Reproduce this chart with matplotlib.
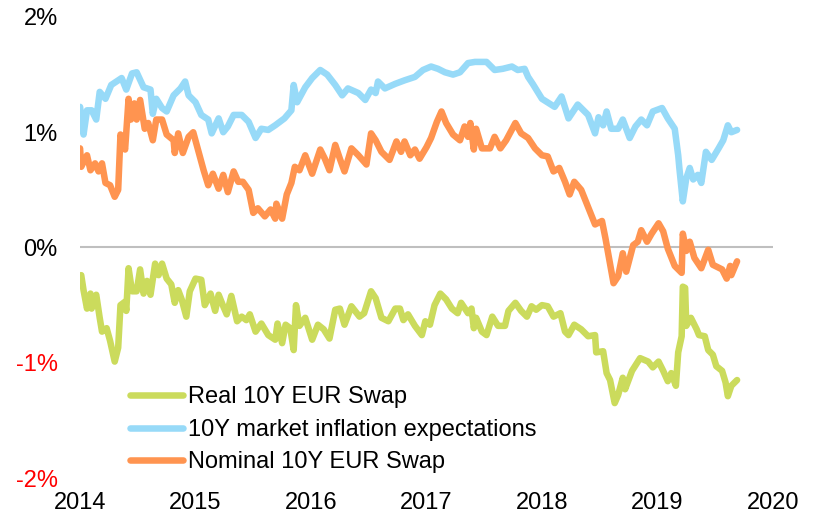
import matplotlib.pyplot as plt

# decimal years / values in %
real_t = [2014.01, 2014.03, 2014.06, 2014.09, 2014.10, 2014.14, 2014.17, 2014.19, 2014.23, 2014.26,
          2014.30, 2014.33, 2014.35, 2014.39, 2014.40, 2014.42, 2014.45, 2014.49, 2014.52, 2014.55,
          2014.58, 2014.61, 2014.65, 2014.68, 2014.71, 2014.75, 2014.79, 2014.82, 2014.85, 2014.88,
          2014.92, 2014.95, 2015.00, 2015.05, 2015.08, 2015.13, 2015.17, 2015.20, 2015.24, 2015.27,
          2015.31, 2015.36, 2015.40, 2015.44, 2015.47, 2015.52, 2015.57, 2015.63, 2015.69, 2015.71,
          2015.75, 2015.78, 2015.82, 2015.85, 2015.87, 2015.90, 2015.95, 2016.01, 2016.06, 2016.11,
          2016.16, 2016.21, 2016.25, 2016.29, 2016.35, 2016.42, 2016.46, 2016.52, 2016.56, 2016.61,
          2016.67, 2016.73, 2016.77, 2016.80, 2016.84, 2016.90, 2016.96, 2016.99, 2017.03, 2017.07,
          2017.12, 2017.17, 2017.22, 2017.27, 2017.30, 2017.36, 2017.39, 2017.41, 2017.43, 2017.48,
          2017.52, 2017.57, 2017.62, 2017.68, 2017.71, 2017.77, 2017.82, 2017.87, 2017.91, 2017.95,
          2018.00, 2018.05, 2018.10, 2018.16, 2018.20, 2018.23, 2018.28, 2018.34, 2018.40, 2018.46,
          2018.47, 2018.53, 2018.56, 2018.59, 2018.63, 2018.66, 2018.70, 2018.72, 2018.78, 2018.85,
          2018.92, 2018.96, 2019.01, 2019.05, 2019.09, 2019.12, 2019.16, 2019.18, 2019.21, 2019.22,
          2019.24, 2019.25, 2019.29, 2019.34, 2019.36, 2019.41, 2019.44, 2019.48, 2019.51, 2019.56,
          2019.59, 2019.61, 2019.64, 2019.69]
real_v = [-0.24, -0.37, -0.53, -0.40, -0.53, -0.41, -0.61, -0.73, -0.70, -0.81,
          -0.99, -0.87, -0.50, -0.47, -0.55, -0.18, -0.38, -0.38, -0.19, -0.40,
          -0.29, -0.41, -0.14, -0.24, -0.14, -0.27, -0.32, -0.48, -0.37, -0.45,
          -0.60, -0.38, -0.27, -0.28, -0.50, -0.40, -0.55, -0.41, -0.51, -0.58,
          -0.42, -0.64, -0.60, -0.63, -0.58, -0.73, -0.66, -0.76, -0.80, -0.66,
          -0.83, -0.67, -0.70, -0.89, -0.50, -0.68, -0.61, -0.80, -0.67, -0.71,
          -0.79, -0.54, -0.53, -0.67, -0.51, -0.60, -0.57, -0.38, -0.44, -0.61,
          -0.64, -0.53, -0.53, -0.63, -0.58, -0.68, -0.76, -0.64, -0.67, -0.50,
          -0.40, -0.45, -0.53, -0.57, -0.48, -0.57, -0.53, -0.70, -0.61, -0.73,
          -0.76, -0.60, -0.68, -0.68, -0.55, -0.48, -0.55, -0.60, -0.51, -0.54,
          -0.50, -0.51, -0.60, -0.57, -0.73, -0.76, -0.67, -0.71, -0.77, -0.76,
          -0.91, -0.90, -1.09, -1.15, -1.35, -1.28, -1.13, -1.23, -1.07, -0.96,
          -0.99, -1.04, -0.99, -1.07, -1.16, -1.09, -1.20, -0.91, -0.77, -0.34,
          -0.35, -0.68, -0.61, -0.71, -0.76, -0.77, -0.89, -0.93, -1.03, -1.07,
          -1.17, -1.29, -1.20, -1.15]

infl_t = [2014.00, 2014.03, 2014.06, 2014.10, 2014.14, 2014.17, 2014.22, 2014.27, 2014.36, 2014.40,
          2014.45, 2014.49, 2014.55, 2014.61, 2014.63, 2014.66, 2014.71, 2014.75, 2014.81, 2014.87,
          2014.91, 2014.94, 2015.00, 2015.05, 2015.11, 2015.14, 2015.20, 2015.24, 2015.28, 2015.33,
          2015.40, 2015.46, 2015.52, 2015.57, 2015.63, 2015.69, 2015.77, 2015.83, 2015.85, 2015.88,
          2015.95, 2016.01, 2016.08, 2016.14, 2016.21, 2016.27, 2016.32, 2016.41, 2016.47, 2016.52,
          2016.56, 2016.58, 2016.64, 2016.73, 2016.81, 2016.90, 2016.97, 2017.04, 2017.10, 2017.16,
          2017.23, 2017.29, 2017.36, 2017.42, 2017.52, 2017.59, 2017.66, 2017.74, 2017.79, 2017.85,
          2017.88, 2017.92, 2018.00, 2018.11, 2018.17, 2018.23, 2018.31, 2018.40, 2018.46, 2018.49,
          2018.53, 2018.56, 2018.60, 2018.66, 2018.70, 2018.76, 2018.81, 2018.86, 2018.91, 2018.96,
          2019.04, 2019.09, 2019.15, 2019.18, 2019.19, 2019.22, 2019.25, 2019.28, 2019.31, 2019.35,
          2019.38, 2019.42, 2019.47, 2019.53, 2019.57, 2019.61, 2019.64, 2019.69]
infl_v = [1.22, 0.98, 1.19, 1.19, 1.11, 1.35, 1.29, 1.41, 1.47, 1.37,
          1.51, 1.52, 1.39, 1.37, 1.16, 1.29, 1.21, 1.18, 1.32, 1.38,
          1.44, 1.32, 1.26, 1.15, 1.11, 0.99, 1.12, 1.00, 1.05, 1.15,
          1.15, 1.09, 0.95, 1.03, 1.02, 1.06, 1.12, 1.19, 1.41, 1.26,
          1.39, 1.47, 1.54, 1.50, 1.41, 1.32, 1.38, 1.34, 1.28, 1.37,
          1.34, 1.44, 1.38, 1.42, 1.45, 1.48, 1.54, 1.57, 1.55, 1.52,
          1.50, 1.52, 1.60, 1.61, 1.61, 1.54, 1.55, 1.57, 1.54, 1.55,
          1.48, 1.42, 1.29, 1.22, 1.31, 1.12, 1.24, 1.15, 0.99, 1.13,
          1.06, 1.18, 1.03, 1.03, 1.11, 0.95, 1.05, 1.11, 1.06, 1.18,
          1.21, 1.12, 1.03, 0.80, 0.69, 0.40, 0.60, 0.69, 0.59, 0.63,
          0.56, 0.83, 0.76, 0.86, 0.93, 1.06, 1.00, 1.02]

nom_t = [2014.00, 2014.01, 2014.06, 2014.09, 2014.13, 2014.16, 2014.19, 2014.22, 2014.26, 2014.30,
         2014.33, 2014.35, 2014.39, 2014.42, 2014.44, 2014.47, 2014.49, 2014.52, 2014.56, 2014.59,
         2014.63, 2014.66, 2014.71, 2014.75, 2014.81, 2014.82, 2014.85, 2014.89, 2014.94, 2014.98,
         2015.01, 2015.07, 2015.11, 2015.15, 2015.20, 2015.24, 2015.28, 2015.33, 2015.37, 2015.41,
         2015.46, 2015.50, 2015.54, 2015.60, 2015.65, 2015.69, 2015.70, 2015.75, 2015.79, 2015.83,
         2015.86, 2015.90, 2015.95, 2016.01, 2016.08, 2016.12, 2016.16, 2016.21, 2016.25, 2016.29,
         2016.35, 2016.41, 2016.48, 2016.52, 2016.56, 2016.61, 2016.68, 2016.74, 2016.78, 2016.81,
         2016.86, 2016.90, 2016.94, 2017.00, 2017.04, 2017.09, 2017.13, 2017.17, 2017.23, 2017.29,
         2017.33, 2017.36, 2017.38, 2017.41, 2017.43, 2017.48, 2017.55, 2017.59, 2017.64, 2017.69,
         2017.77, 2017.82, 2017.88, 2017.94, 2018.00, 2018.05, 2018.10, 2018.15, 2018.20, 2018.24,
         2018.28, 2018.34, 2018.40, 2018.46, 2018.52, 2018.55, 2018.57, 2018.62, 2018.66, 2018.70,
         2018.73, 2018.79, 2018.83, 2018.86, 2018.91, 2018.95, 2019.01, 2019.05, 2019.09, 2019.15,
         2019.21, 2019.22, 2019.25, 2019.28, 2019.32, 2019.38, 2019.44, 2019.48, 2019.56, 2019.60,
         2019.63, 2019.64, 2019.69]
nom_v = [0.86, 0.70, 0.80, 0.67, 0.73, 0.66, 0.73, 0.56, 0.54, 0.44,
         0.50, 0.98, 0.85, 1.29, 1.11, 1.25, 1.11, 1.28, 1.03, 1.08,
         0.93, 1.11, 1.11, 0.98, 0.93, 0.82, 0.99, 0.82, 0.96, 1.00,
         0.89, 0.67, 0.54, 0.64, 0.51, 0.63, 0.48, 0.66, 0.57, 0.57,
         0.50, 0.30, 0.34, 0.27, 0.33, 0.25, 0.38, 0.25, 0.46, 0.56,
         0.70, 0.67, 0.80, 0.64, 0.85, 0.77, 0.67, 0.89, 0.77, 0.66,
         0.86, 0.80, 0.72, 0.99, 0.93, 0.83, 0.76, 0.92, 0.83, 0.92,
         0.80, 0.85, 0.77, 0.87, 0.95, 1.09, 1.18, 1.08, 0.98, 0.93,
         1.05, 0.96, 1.08, 0.85, 1.03, 0.86, 0.86, 0.96, 0.86, 0.93,
         1.08, 0.99, 0.95, 0.86, 0.80, 0.79, 0.66, 0.69, 0.57, 0.46,
         0.57, 0.50, 0.35, 0.20, 0.23, 0.08, -0.03, -0.31, -0.25, -0.05,
         -0.21, 0.02, 0.05, 0.15, 0.05, 0.12, 0.21, 0.14, -0.01, -0.16,
         -0.22, 0.12, -0.03, 0.05, -0.09, -0.18, -0.02, -0.15, -0.19, -0.27,
         -0.16, -0.24, -0.12]

years = [2014, 2015, 2016, 2017, 2018, 2019, 2020]
y_ticks = [-2, -1, 0, 1, 2]
y_labels = ["-2%", "-1%", "0%", "1%", "2%"]

plt.rcParams["font.family"] = ["Liberation Sans", "DejaVu Sans"]

fig = plt.figure(figsize=(8.17, 5.14), dpi=100)
ax = fig.add_axes([0.098, 0.070, 0.848, 0.897])

ax.axhline(0, color="#BFBFBF", linewidth=1.5, zorder=1)

style = dict(linewidth=4.7, solid_capstyle="round", solid_joinstyle="round", zorder=2)
ax.plot(real_t, real_v, color="#CBDB5C", label="Real 10Y EUR Swap", **style)
ax.plot(infl_t, infl_v, color="#97DAF8", label="10Y market inflation expectations", **style)
ax.plot(nom_t, nom_v, color="#FF9450", label="Nominal 10Y EUR Swap", **style)

ax.set_xlim(2014, 2020)
ax.set_ylim(-2, 2)
ax.set_xticks(years)
ax.set_xticklabels([str(y) for y in years])
ax.set_yticks(y_ticks)
ax.set_yticklabels(y_labels)
for lbl, v in zip(ax.get_yticklabels(), y_ticks):
    lbl.set_color("red" if v < 0 else "black")

ax.tick_params(axis="both", length=0, labelsize=17)
ax.tick_params(axis="x", pad=10)
ax.tick_params(axis="y", pad=16)
for s in ax.spines.values():
    s.set_visible(False)

ax.legend(loc="lower left", bbox_to_anchor=(0.072, 0.01), frameon=False, fontsize=17,
          handlelength=2.25, handletextpad=0.2, labelspacing=0.45,
          borderpad=0, borderaxespad=0)

fig.savefig("out.png", dpi=100)
